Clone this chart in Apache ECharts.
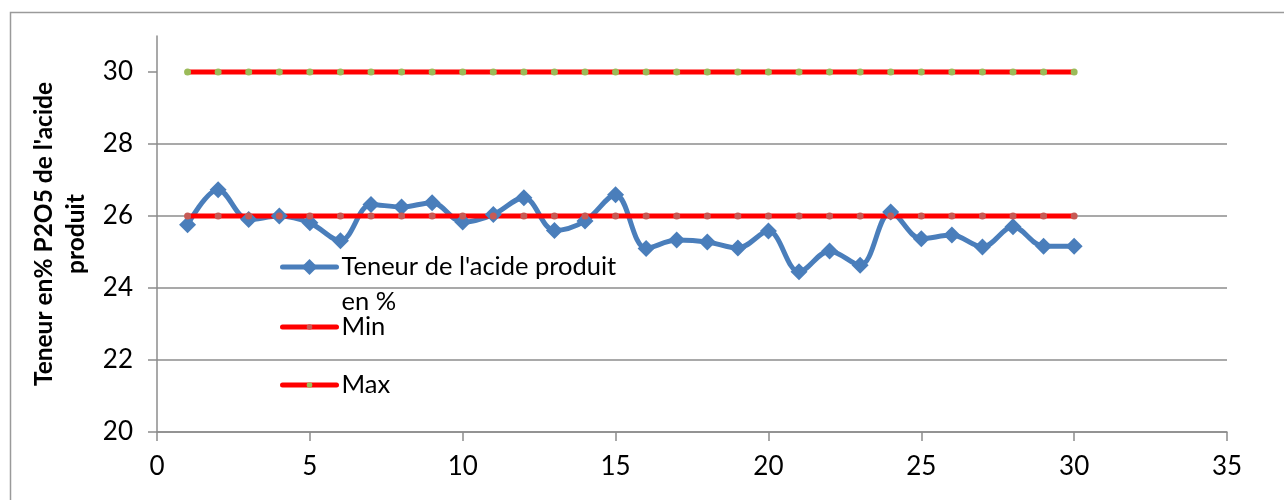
<!DOCTYPE html>
<html>
<head>
<meta charset="utf-8">
<script src="https://cdn.jsdelivr.net/npm/echarts@6/dist/echarts.min.js"></script>
<style>
  html, body { margin: 0; padding: 0; background: #fff; }
  #chart { width: 1284px; height: 500px; }
</style>
</head>
<body>
<div id="chart"></div>
<script>
// Jours de prélèvement
const days = [1, 2, 3, 4, 5, 6, 7, 8, 9, 10, 11, 12, 13, 14, 15, 16, 17, 18, 19, 20, 21, 22, 23, 24, 25, 26, 27, 28, 29, 30];
// Teneur en P2O5 de l'acide produit (%)
const teneur = [25.76, 26.73, 25.90, 26.00, 25.81, 25.31, 26.32, 26.25, 26.37, 25.83,
                26.04, 26.51, 25.60, 25.86, 26.59, 25.10, 25.33, 25.28, 25.11, 25.58,
                24.45, 25.03, 24.63, 26.11, 25.37, 25.47, 25.14, 25.70, 25.16, 25.16];
// Limites de spécification
const minLimit = [26, 26, 26, 26, 26, 26, 26, 26, 26, 26, 26, 26, 26, 26, 26,
                  26, 26, 26, 26, 26, 26, 26, 26, 26, 26, 26, 26, 26, 26, 26];
const maxLimit = [30, 30, 30, 30, 30, 30, 30, 30, 30, 30, 30, 30, 30, 30, 30,
                  30, 30, 30, 30, 30, 30, 30, 30, 30, 30, 30, 30, 30, 30, 30];
const seriesNames = ["Teneur de l'acide produit en %", 'Min', 'Max'];
const yTicks = [20, 22, 24, 26, 28, 30];
const yAxisTitle = "Teneur en% P2O5 de l'acide\nproduit";

const pairs = (ys) => days.map((d, i) => [d, ys[i]]);

const FONT = 'Lato, Calibri, "Liberation Sans", sans-serif';
const GRID_COLOR = '#8c8c8c';

const chart = echarts.init(document.getElementById('chart'), null, { renderer: 'canvas' });

const legendText = {
  fontFamily: FONT, fontSize: 25.5, color: '#000', lineHeight: 35,
  rich: {
    p: { fontFamily: FONT, fontSize: 25.5, lineHeight: 35 },
    t: { fontFamily: FONT, fontSize: 25.5, lineHeight: 35, color: '#000' }
  }
};
const legendBase = {
  orient: 'vertical', left: 280, padding: 0,
  itemWidth: 54, itemHeight: 7, itemGap: 0,
  textStyle: legendText, selectedMode: false,
  lineStyle: { width: 5, cap: 'round' }
};

chart.setOption({
  animation: false,
  backgroundColor: '#fff',
  graphic: [{
    type: 'rect',
    shape: { x: 10.5, y: 12.5, width: 1400, height: 700 },
    style: { fill: 'none', stroke: '#9a9a9a', lineWidth: 1.5 },
    silent: true
  }],
  grid: { left: 157, right: 57, top: 36, bottom: 68 },
  legend: [
    Object.assign({}, legendBase, {
      top: 214.5, itemHeight: 20,
      data: [seriesNames[0]],
      formatter: () => "{p| }\n{t|Teneur de l'acide produit}\n{t|en %}"
    }),
    Object.assign({}, legendBase, { top: 309.5, data: [seriesNames[1]] }),
    Object.assign({}, legendBase, { top: 367.5, data: [seriesNames[2]] })
  ],
  xAxis: {
    type: 'value', min: 0, max: 35, interval: 5,
    axisLine: { show: true, onZero: false, lineStyle: { color: GRID_COLOR, width: 1.5 } },
    axisTick: { show: true, inside: false, length: 9, lineStyle: { color: GRID_COLOR, width: 1.5 } },
    axisLabel: { color: '#000', fontFamily: FONT, fontSize: 26, margin: 22 },
    splitLine: { show: false }
  },
  yAxis: {
    type: 'value', min: 20, max: 31, interval: 2,
    name: yAxisTitle,
    nameLocation: 'middle', nameRotate: 90, nameGap: 48,
    nameTextStyle: { color: '#000', fontFamily: FONT, fontSize: 24.5, fontWeight: 'bold', lineHeight: 32, align: 'center' },
    axisLine: { show: true, onZero: false, lineStyle: { color: GRID_COLOR, width: 1.5 } },
    axisTick: { show: true, inside: false, length: 9, customValues: yTicks, lineStyle: { color: GRID_COLOR, width: 1.5 } },
    axisLabel: { color: '#000', fontFamily: FONT, fontSize: 26, margin: 24, customValues: yTicks },
    splitLine: { show: true, showMinLine: true, showMaxLine: false, lineStyle: { color: GRID_COLOR, width: 1.5 } }
  },
  series: [
    {
      name: seriesNames[0], type: 'line', smooth: 0.35,
      data: pairs(teneur),
      symbol: 'diamond', symbolSize: 17,
      lineStyle: { color: '#4a7ebb', width: 5 },
      itemStyle: { color: '#4a7ebb' }
    },
    {
      name: seriesNames[1], type: 'line',
      data: pairs(minLimit),
      symbol: 'circle', symbolSize: 7,
      lineStyle: { color: '#ff0000', width: 5 },
      itemStyle: { color: '#c75a55' }
    },
    {
      name: seriesNames[2], type: 'line',
      data: pairs(maxLimit),
      symbol: 'circle', symbolSize: 7,
      lineStyle: { color: '#ff0000', width: 5 },
      itemStyle: { color: '#9bbb59' }
    }
  ]
});
</script>
</body>
</html>
